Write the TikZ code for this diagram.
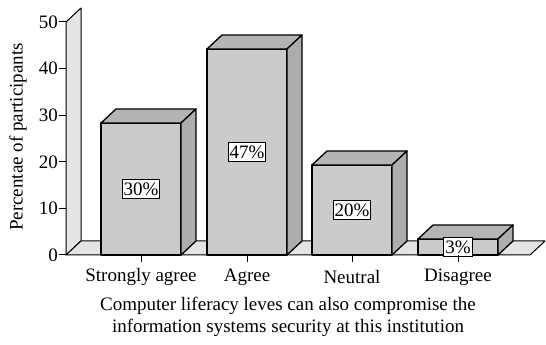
\documentclass[tikz,border=0pt]{standalone}
\usepackage{fontspec}
\setmainfont{Liberation Serif}
\definecolor{frontgray}{HTML}{CBCBCB}
\definecolor{topgray}{HTML}{B4B4B4}
\definecolor{sidegray}{HTML}{ADADAD}
\definecolor{wallgray}{HTML}{E4E4E4}
\begin{document}
\begin{tikzpicture}[x=1pt, y=1pt,
  every node/.style = {font=\fontsize{19}{22}\selectfont},
  face/.style = {draw, line width=1.3pt, line join=round},
  valbox/.style = {draw, fill=white, inner xsep=1.5pt, inner ysep=3.5pt, line width=0.9pt}]
  \useasboundingbox (0,0) rectangle (546,345);
  % back wall and floor
  \filldraw[face, line width=1pt, fill=wallgray] (66,90) -- (66,323) -- (81,337) -- (81,104) -- cycle;
  \filldraw[face, line width=1pt, fill=wallgray] (66,90) -- (530,90) -- (545,104) -- (81,104) -- cycle;
  % y axis ticks
  \foreach \v in {0,10,...,50} {
    \draw[line width=1pt] (59,90+4.66*\v) -- (66,90+4.66*\v);
    \node[anchor=east, inner sep=1pt] (ylab\v) at (59,90+4.66*\v) {\v};
  }
  \node[rotate=90] (ytitle) at (18,208) {Percentae of participants};
  % bars
  \foreach \x/\h/\v/\n in {101/222/30/sa, 207/296/47/ag, 312/180/20/ne, 418/106/3/di} {
    \filldraw[face, fill=frontgray] (\x,90) rectangle (\x+80,\h);
    \filldraw[face, fill=topgray] (\x,\h) -- (\x+15,\h+14) -- (\x+95,\h+14) -- (\x+80,\h) -- cycle;
    \filldraw[face, fill=sidegray] (\x+80,90) -- (\x+95,104) -- (\x+95,\h+14) -- (\x+80,\h) -- cycle;
    \node[valbox] (val-\n) at (\x+40,{(90+\h)/2}) {\v\%};
    \draw[line width=1pt] (\x+40,90) -- (\x+40,83);
  }
  % categories
  \node (cat-sa) at (141,68) {Strongly agree};
  \node (cat-ag) at (247,68) {Agree};
  \node (cat-ne) at (352,68) {Neutral};
  \node (cat-di) at (458,68) {Disagree};
  \node[align=center] (xtitle) at (288,28) {Computer liferacy leves can also compromise the\\information systems security at this institution};
\end{tikzpicture}
\end{document}
